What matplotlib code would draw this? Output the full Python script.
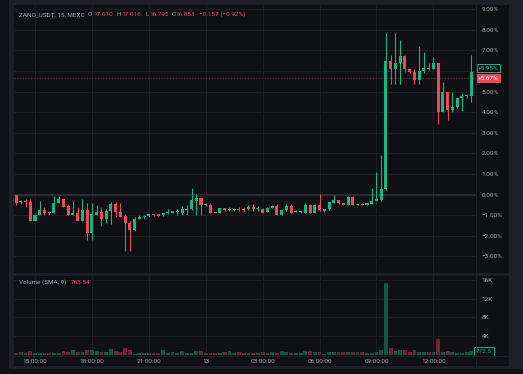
import matplotlib
matplotlib.use("Agg")
import matplotlib.pyplot as plt
from matplotlib.patches import Rectangle
from matplotlib.transforms import blended_transform_factory

# ---- data (percent change vs. session start, 15 min candles from 14:00) ----
opens = [0.00, -0.35, -0.33, -0.35, -1.27, -0.98, -0.75, -0.85, -0.88, -0.42,
         -0.23, -0.56, -0.98, -0.90, -1.27, -0.75, -1.88, -0.98, -0.85, -1.17,
         -0.80, -0.47, -0.85, -1.05, -1.40, -1.70, -1.20, -1.10, -1.05, -0.95,
         -1.00, -1.00, -0.92, -0.88, -0.85, -0.90, -0.75, -0.72, -0.30, -0.17,
         -0.50, -0.50, -0.88, -0.90, -0.67, -0.75, -0.75, -0.70, -0.70, -0.72,
         -0.62, -0.70, -0.68, -0.85, -0.65, -0.55, -0.98, -0.77, -0.58, -0.85,
         -0.85, -0.88, -0.50, -0.90, -0.50, -0.78, -0.72, -0.40, -0.28, -0.42,
         -0.50, -0.10, -0.50, -0.45, -0.50, -0.45, -0.30, -0.27, 0.28, 6.48,
         6.10, 6.38, 6.74, 6.10, 5.96, 5.57, 6.00, 6.16, 6.10, 6.38,
         4.02, 4.96, 4.09, 4.25, 4.70, 4.78, 4.80]
highs = [0.00, -0.25, -0.20, -0.22, -0.95, -0.30, -0.60, -0.80, -0.07, -0.07,
         -0.23, -0.45, -0.30, -0.60, -0.23, -0.40, -0.40, -0.50, -0.60, -0.70,
         -0.35, -0.35, -0.40, -0.95, -1.30, -1.10, -1.00, -1.00, -0.93, -0.93,
         -0.97, -0.88, -0.72, -0.78, -0.72, -0.55, -0.50, 0.32, 0.05, -0.15,
         -0.42, -0.40, -0.86, -0.65, -0.64, -0.62, -0.65, -0.62, -0.62, -0.50,
         -0.48, -0.58, -0.66, -0.62, -0.52, -0.48, -0.73, -0.48, -0.48, -0.75,
         -0.78, -0.40, -0.48, -0.48, 0.05, -0.70, -0.35, 0.00, -0.26, -0.40,
         -0.08, -0.08, -0.45, -0.43, -0.40, 0.32, 1.10, 1.90, 7.84, 6.77,
         7.84, 7.51, 6.76, 6.12, 6.10, 7.22, 6.93, 6.38, 6.67, 6.40,
         5.48, 4.98, 4.96, 4.75, 4.95, 4.90, 6.77]
lows = [-0.50, -0.45, -0.60, -1.27, -1.30, -0.98, -0.98, -1.00, -0.88, -0.42,
        -0.60, -1.00, -1.00, -1.30, -1.30, -2.20, -2.20, -1.00, -1.55, -1.40,
        -1.45, -1.10, -1.10, -2.75, -2.75, -1.75, -1.20, -1.12, -1.07, -1.02,
        -1.04, -1.02, -0.94, -0.90, -0.98, -1.00, -1.00, -0.75, -1.00, -1.00,
        -0.55, -0.92, -0.92, -0.92, -0.78, -0.82, -0.80, -0.82, -0.82, -0.74,
        -0.78, -0.82, -0.90, -0.87, -0.67, -1.00, -1.00, -0.79, -0.92, -0.87,
        -0.88, -0.90, -0.92, -0.92, -0.80, -0.85, -0.74, -0.42, -0.44, -0.52,
        -0.52, -0.52, -0.52, -0.52, -0.52, -0.47, -0.32, -0.30, 0.20, 5.35,
        5.35, 5.35, 5.96, 5.90, 5.35, 5.35, 5.90, 6.05, 6.08, 3.44,
        4.00, 3.63, 4.00, 4.20, 4.05, 4.70, 4.48]
closes = [-0.40, -0.30, -0.38, -1.27, -0.98, -0.75, -0.88, -0.90, -0.40, -0.20,
          -0.60, -0.98, -0.90, -1.27, -0.75, -1.88, -0.95, -0.85, -1.17, -0.80,
          -0.47, -0.85, -1.08, -1.40, -1.70, -1.17, -1.08, -1.05, -0.95, -1.00,
          -1.02, -0.90, -0.85, -0.82, -0.80, -0.72, -0.72, -0.27, -0.17, -0.52,
          -0.45, -0.90, -0.90, -0.67, -0.74, -0.70, -0.72, -0.75, -0.75, -0.62,
          -0.72, -0.66, -0.88, -0.65, -0.55, -0.98, -0.75, -0.58, -0.88, -0.78,
          -0.80, -0.50, -0.90, -0.50, -0.75, -0.72, -0.37, -0.28, -0.42, -0.50,
          -0.10, -0.50, -0.47, -0.50, -0.42, -0.30, -0.25, 0.28, 6.48, 6.10,
          6.38, 6.74, 6.10, 5.93, 5.57, 6.00, 6.16, 6.10, 6.38, 4.02,
          4.96, 4.09, 4.25, 4.70, 4.80, 4.85, 5.95]
volumes = [500, 640, 355, 925, 500, 500, 430, 500, 500, 500,
           780, 710, 1140, 710, 570, 1000, 1000, 925, 710, 570,
           1210, 925, 710, 1560, 1065, 285, 355, 500, 430, 500,
           500, 1000, 500, 570, 500, 780, 500, 500, 925, 780,
           500, 500, 430, 500, 570, 925, 500, 710, 500, 500,
           500, 500, 710, 500, 710, 500, 780, 570, 500, 500,
           500, 855, 780, 640, 710, 285, 710, 710, 710, 710,
           710, 570, 570, 570, 500, 500, 640, 1140, 15400, 1490,
           855, 1065, 1000, 710, 1000, 710, 570, 570, 570, 3480,
           710, 925, 640, 355, 500, 570, 772.5]

time_ticks = [4, 16, 28, 40, 52, 64, 76, 88]
time_labels = ["15:00:00", "18:00:00", "21:00:00", "13", "03:00:00",
               "06:00:00", "09:00:00", "12:00:00"]
pct_ticks = list(range(-3, 10))
vol_ticks = [4000, 8000, 12000, 16000]
vol_labels = ["4K", "8K", "12K", "16K"]
ref_line = 5.67
vol_sma = 763.54

# ---- style ----
W, H = 523, 374
BG = "#0e1014"
FRAME = "#1d2027"
GRID = "#1b1e25"
TEXT = "#a3a6af"
UP = "#14b886"
DOWN = "#f0475a"
UP_VOL = "#0c5a45"
DOWN_VOL = "#6e2530"
FONT = "Roboto"
FS = 4.6


def fx(px):
    return px / W


def fy(py):
    return 1 - py / H


fig = plt.figure(figsize=(W / 100, H / 100), dpi=100)
fig.patch.set_facecolor("#101216")
fig.patches.append(Rectangle((fx(9), fy(369)), 1 - fx(9), 1 - fy(369),
                             transform=fig.transFigure, facecolor=FRAME, zorder=-3))
fig.patches.append(Rectangle((fx(14), fy(366)), fx(509) - fx(14), fy(5) - fy(366),
                             transform=fig.transFigure, facecolor=BG, zorder=-2))

ax = fig.add_axes([fx(14), fy(272), fx(476) - fx(14), fy(5) - fy(272)])
vax = fig.add_axes([fx(14), fy(355), fx(476) - fx(14), fy(276) - fy(355)])

n = len(closes)
xs = list(range(n))
xlim = (-0.43, 96.98)

for a in (ax, vax):
    a.set_facecolor("none")
    a.set_xlim(*xlim)
    for s in a.spines.values():
        s.set_visible(False)
    a.set_xticks(time_ticks)
    a.tick_params(length=0, colors=TEXT, labelsize=FS)
    a.yaxis.tick_right()
    a.grid(True, color=GRID, lw=0.7)
    a.set_axisbelow(True)

# price pane
ax.set_ylim(-3.76, 9.2)
ax.set_yticks(pct_ticks)
ax.set_yticklabels([f"{v:.2f}%".replace("-", "\u2212") for v in pct_ticks],
                   fontfamily=FONT)
ax.tick_params(axis="y", pad=4)
ax.set_xticklabels([])
ax.axhline(0, color="#2a2d34", lw=1.6, zorder=1)
ax.axhline(ref_line, color="#7c2630", lw=0.8, ls=(0, (1, 1.5)), zorder=1)

colors = [UP if c >= o else DOWN for o, c in zip(opens, closes)]
ax.vlines(xs, lows, highs, colors=colors, lw=0.75, zorder=2)
bottoms = [min(o, c) for o, c in zip(opens, closes)]
heights = [max(abs(c - o), 0.06) for o, c in zip(opens, closes)]
ax.bar(xs, heights, bottom=bottoms, width=0.64, color=colors, lw=0, zorder=3)

# volume pane
vax.set_ylim(0, 16800)
vax.set_yticks(vol_ticks)
vax.set_yticklabels(vol_labels, fontfamily=FONT)
vax.tick_params(axis="y", pad=4)
vax.set_xticklabels(time_labels, fontfamily=FONT)
vax.tick_params(axis="x", pad=3)
vcolors = [UP_VOL if c == UP else DOWN_VOL for c in colors]
vax.bar(xs, volumes, width=0.8, color=vcolors, lw=0, zorder=2)

# separators
fig.add_artist(plt.Line2D([fx(14), fx(509)], [fy(273.5), fy(273.5)],
                          color=FRAME, lw=2.2))
fig.add_artist(plt.Line2D([fx(476), fx(476)], [fy(5), fy(366)],
                          color=FRAME, lw=0.8))
fig.add_artist(plt.Line2D([fx(14), fx(509)], [fy(355.5), fy(355.5)],
                          color=FRAME, lw=0.8))

# last value labels on the price scale (green one pushed up to avoid overlap)
tr = blended_transform_factory(ax.transAxes, ax.transData)
ax.text(1.004, 6.15, "+5.95%", transform=tr, ha="left", va="center",
        fontsize=FS, color=UP, fontfamily=FONT, zorder=5, clip_on=False,
        bbox=dict(boxstyle="square,pad=0.2", fc=BG, ec=UP, lw=0.7))
ax.text(1.004, ref_line - 0.02, "+5.67%", transform=tr, ha="left", va="center",
        fontsize=FS, color="white", fontfamily=FONT, zorder=5, clip_on=False,
        bbox=dict(boxstyle="square,pad=0.2", fc=DOWN, ec=DOWN, lw=0.7))
vtr = blended_transform_factory(vax.transAxes, vax.transData)
vax.text(1.0, volumes[-1], "772.5", transform=vtr, ha="left", va="center",
         fontsize=FS, color=UP, fontfamily=FONT, zorder=5, clip_on=False,
         bbox=dict(boxstyle="square,pad=0.3", fc=BG, ec=UP, lw=0.7))

# legends
hdr = [(19, "ZANO_USDT, 15, MEXC", TEXT), (87.5, "O", TEXT), (93, "17.010", DOWN),
       (116.5, "H", TEXT), (121.5, "17.016", DOWN), (145, "L", TEXT),
       (149, "16.795", DOWN), (171.5, "C", TEXT), (175.5, "16.853", DOWN),
       (199, "\u22120.157 (\u22120.92%)", DOWN)]
for x, s, c in hdr:
    fig.text(fx(x), fy(14.5), s, color=c, fontsize=FS, fontfamily=FONT,
             ha="left", va="center")
fig.text(fx(19), fy(282.5), "Volume (SMA, 9)", color=TEXT, fontsize=FS,
         fontfamily=FONT, ha="left", va="center")
fig.text(fx(71), fy(282.5), f"{vol_sma:.2f}", color=DOWN, fontsize=FS,
         fontfamily=FONT, ha="left", va="center")

fig.savefig("out.png", dpi=100, facecolor=fig.get_facecolor())
